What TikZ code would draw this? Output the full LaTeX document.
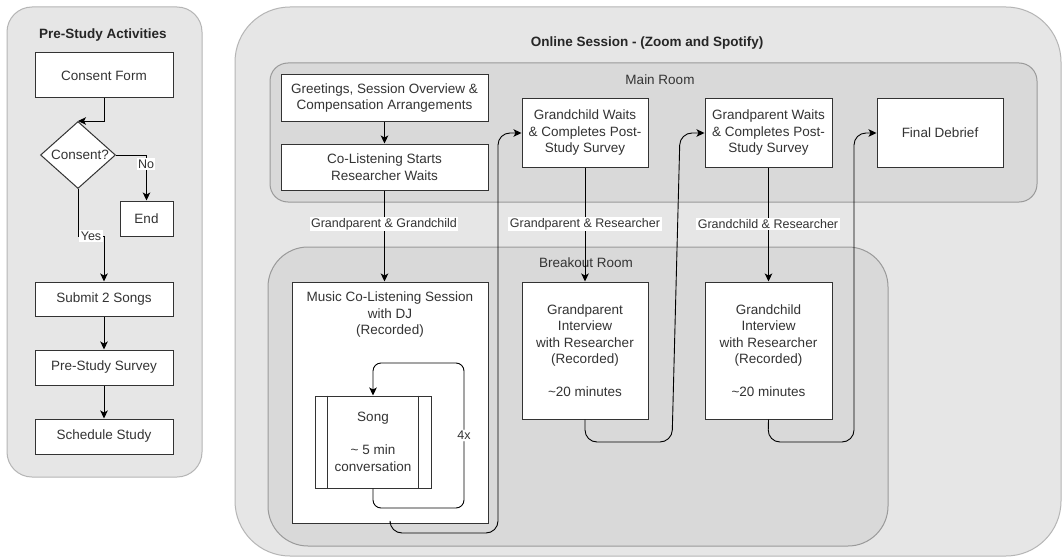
\documentclass[tikz,border=0pt]{standalone}
\usepackage{fontspec}
\setmainfont{Liberation Sans}
\usetikzlibrary{shapes.geometric,arrows.meta}
\definecolor{txt}{HTML}{333333}
\definecolor{panel}{HTML}{E6E6E6}
\definecolor{panelb}{HTML}{B5B5B5}
\definecolor{room}{HTML}{D9D9D9}
\definecolor{roomb}{HTML}{9A9A9A}
\newcommand{\mainfs}{\fontsize{13.5}{16.5}\selectfont}
\newcommand{\lblfs}{\fontsize{12.5}{15}\selectfont}
\begin{document}
\begin{tikzpicture}[x=1pt,y=-1pt,
  boxn/.style={draw=black!80, fill=white, line width=1pt, align=center, font=\mainfs, text=txt, inner sep=0pt},
  arr/.style={draw=black, line width=0.9pt, -{Stealth[length=8pt,width=7.5pt,inset=2pt]}},
  plain/.style={draw=black, line width=0.9pt},
  lbl/.style={font=\lblfs, text=txt, fill=white, inner sep=1.5pt},
  ttl/.style={font=\mainfs\bfseries, text=black!85},
  roomlbl/.style={font=\mainfs, text=txt, inner sep=0pt},
  outerpanel/.style={draw=panelb, fill=panel, line width=1pt},
  roompanel/.style={draw=roomb, fill=room, line width=1pt}]
\fill[white] (0,0) rectangle (1064,559);
\useasboundingbox (0,0) rectangle (1064,559);

% ---------- Pre-study panel ----------
\draw[outerpanel, rounded corners=25pt] (7,7) rectangle (202,477);
\node[ttl] (pretitle) at (103,35) {Pre-Study Activities};
\node[boxn, minimum width=138pt, minimum height=45pt] (cf) at (104,75.5) {Consent Form};
\node[diamond, draw=black!80, fill=white, line width=1pt, minimum width=75pt, minimum height=67pt, inner sep=0pt] (cons) at (78,155) {};
\node[font=\mainfs, text=txt, inner sep=0pt] (constxt) at (80,155) {Consent?};
\node[boxn, minimum width=53pt, minimum height=35pt] (endn) at (146.5,218.5) {End};
\node[boxn, minimum width=138pt, minimum height=34pt] (sub) at (104,299) {Submit 2 Songs};
\node[boxn, minimum width=138pt, minimum height=35pt] (pss) at (104,367.5) {Pre-Study Survey};
\node[boxn, minimum width=138pt, minimum height=35pt] (sch) at (104,436.5) {Schedule Study};

\draw[arr] (cf.south) |- (cons.north);
\draw[arr] (cons.east) -| (endn.north);
\node[lbl] (lno) at (146,164) {No};
\draw[arr] (cons.south) -- (cons.south |- endn.south) -| (sub.north);
\node[lbl] (lyes) at (91,236) {Yes};
\draw[arr] (sub.south) -- (pss.north);
\draw[arr] (pss.south) -- (sch.north);

% ---------- Online session panel ----------
\draw[outerpanel, rounded corners=55pt] (235,7) rectangle (1061,556);
\node[ttl] (ontitle) at (647,43) {Online Session - (Zoom and Spotify)};
\draw[roompanel, rounded corners=18pt] (270,63) rectangle (1037,202);
\node[roomlbl] (mainlbl) at (660,80) {Main Room};
\draw[roompanel, rounded corners=40pt] (268,247) rectangle (888,546);
\node[roomlbl] (brlbl) at (586,263) {Breakout Room};

\node[boxn, minimum width=207pt, minimum height=46pt] (gr) at (384.5,98) {Greetings, Session Overview \&\\Compensation Arrangements};
\node[boxn, minimum width=207pt, minimum height=46pt] (cl) at (384.5,167) {Co-Listening Starts\\Researcher Waits};
\node[boxn, minimum width=126pt, minimum height=68pt] (gcw) at (585,133) {Grandchild Waits\\\& Completes Post-\\Study Survey};
\node[boxn, minimum width=127pt, minimum height=68pt] (gpw) at (768.5,133) {Grandparent Waits\\\& Completes Post-\\Study Survey};
\node[boxn, minimum width=126pt, minimum height=68pt] (fd) at (940,133) {Final Debrief};

\node[boxn, minimum width=196pt, minimum height=241pt] (mus) at (390,402.5) {};
\node[font=\mainfs, text=txt, align=center, inner sep=0pt] (mustxt) at (390,315) {Music Co-Listening Session\\with DJ\\(Recorded)};
\node[boxn, minimum width=116pt, minimum height=92pt] (song) at (373,442) {Song\\[16.5pt]\textasciitilde{} 5 min\\conversation};
\draw[draw=black!80, line width=1pt] ([xshift=13pt]song.north west) -- ([xshift=13pt]song.south west);
\draw[draw=black!80, line width=1pt] ([xshift=-13pt]song.north east) -- ([xshift=-13pt]song.south east);

\node[boxn, minimum width=126pt, minimum height=137pt] (gpi) at (585,350.5) {Grandparent\\Interview\\with Researcher\\(Recorded)\\[16.5pt]\textasciitilde20 minutes};
\node[boxn, minimum width=127pt, minimum height=137pt] (gci) at (768.5,350.5) {Grandchild\\Interview\\with Researcher\\(Recorded)\\[16.5pt]\textasciitilde20 minutes};

% connectors
\draw[arr] (gr.south) -- (cl.north);
\draw[arr] (cl.south) -- (cl.south |- mus.north);
\node[lbl] (l1) at (384,224) {Grandparent \& Grandchild};

\draw[arr, rounded corners=8pt] (song.south) -- (373,508) -- (464,508) -- node[lbl, pos=0.5] (l4x) {4x} (464,363) -- (373,363) -- (song.north);

\draw[arr, rounded corners=12pt] (mus.south) -- (390,533) -- (498,533) -- (498,133) -- (gcw.west);

\draw[arr] (gcw.south) -- (gpi.north);
\node[lbl] (l2) at (585,224) {Grandparent \& Researcher};

\draw[arr, rounded corners=12pt] (gpi.south) -- (585,442) -- (672,442) -- (680,133) -- (gpw.west);

\draw[arr] (gpw.south) -- (gci.north);
\node[lbl] (l3) at (768,224) {Grandchild \& Researcher};

\draw[arr, rounded corners=12pt] (gci.south) -- (768,442) -- (854,442) -- (854,133) -- (fd.west);
\end{tikzpicture}
\end{document}
